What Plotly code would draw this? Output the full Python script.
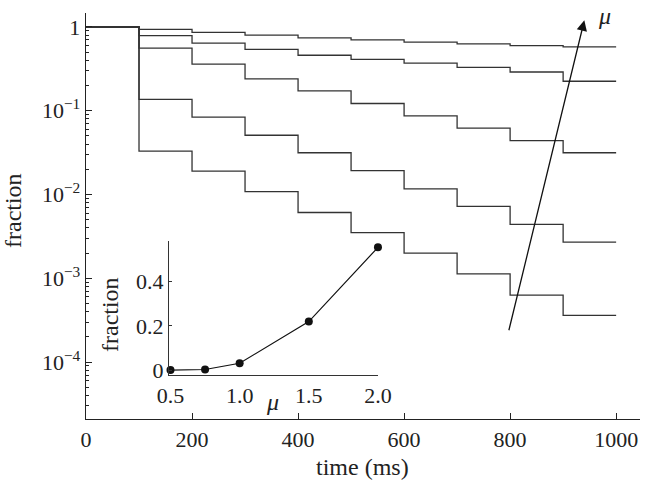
import numpy as np
import plotly.graph_objects as go

# step times (ms)
step_times = [0, 100, 200, 300, 400, 500, 600, 700, 800, 900, 1000]

# survival fractions for each mu (value held from each step time)
frac_mu_2_0 = [1, 0.937, 0.863, 0.80, 0.74, 0.70, 0.66, 0.63, 0.60, 0.58]
frac_mu_1_5 = [1, 0.79, 0.64, 0.54, 0.46, 0.41, 0.37, 0.33, 0.29, 0.225]
frac_mu_1_0 = [1, 0.56, 0.36, 0.24, 0.173, 0.122, 0.087, 0.062, 0.044, 0.0315]
frac_mu_0_75 = [1, 0.137, 0.084, 0.051, 0.0315, 0.0193, 0.0117, 0.0072, 0.0044, 0.0027]
frac_mu_0_5 = [1, 0.033, 0.019, 0.0108, 0.0061, 0.0035, 0.0020, 0.00113, 0.00063, 0.00036]

# inset data
inset_mu = [0.5, 0.75, 1.0, 1.5, 2.0]
inset_frac = [0.0004, 0.003, 0.031, 0.219, 0.554]

y_tickvals = [1e-4, 1e-3, 1e-2, 1e-1, 1]
y_ticktext = ["10<sup>\u22124</sup>", "10<sup>\u22123</sup>", "10<sup>\u22122</sup>",
              "10<sup>\u22121</sup>", "1"]
x_tickvals = [0, 200, 400, 600, 800, 1000]
inset_xticks = [0.5, 1.0, 1.5, 2.0]
inset_xtext = ["0.5", "1.0", "1.5", "2.0"]
inset_yticks = [0, 0.2, 0.4]
inset_ytext = ["0", "0.2", "0.4"]

FONT = "Liberation Serif"
FS = 22   # tick labels
FT = 24   # axis titles
LC = "#333333"

fig = go.Figure()
for s in [frac_mu_2_0, frac_mu_1_5, frac_mu_1_0, frac_mu_0_75, frac_mu_0_5]:
    fig.add_trace(go.Scatter(x=step_times, y=s + [s[-1]], mode="lines",
                             line=dict(shape="hv", color=LC, width=1.3),
                             showlegend=False, hoverinfo="skip"))

fig.add_trace(go.Scatter(x=inset_mu, y=inset_frac, mode="lines+markers",
                         line=dict(color="#111", width=1.2),
                         marker=dict(color="#111", size=8),
                         xaxis="x2", yaxis="y2", showlegend=False,
                         cliponaxis=False, hoverinfo="skip"))

minor_vals = [m * 10.0 ** k for k in range(-5, 1) for m in range(2, 10)]

fig.update_layout(
    width=648, height=483,
    margin=dict(l=86, r=8, t=13, b=64),
    paper_bgcolor="white", plot_bgcolor="white",
    font=dict(family=FONT, size=FS, color="#222"),
    xaxis=dict(range=[0, 1045], tickvals=x_tickvals, ticks="inside", ticklen=6,
               tickcolor="#222", showline=True, linecolor="#222", linewidth=1.3,
               showgrid=False, zeroline=False, mirror=False, automargin=False,
               tickfont=dict(size=FS)),
    yaxis=dict(type="log", range=[-4.68, 0.167], tickvals=y_tickvals, ticktext=y_ticktext,
               ticks="inside", ticklen=6, tickcolor="#222", showline=True,
               linecolor="#222", linewidth=1.3, showgrid=False, zeroline=False,
               automargin=False, tickfont=dict(size=FS),
               minor=dict(tickvals=minor_vals, ticks="inside", ticklen=3, tickcolor="#222",
                          showgrid=False)),
    xaxis2=dict(domain=[0.15, 0.527], anchor="y2", range=[0.49, 2.0],
                tickvals=inset_xticks, ticktext=inset_xtext, ticks="", showline=True,
                linecolor="#333", linewidth=1.2, showgrid=False, zeroline=False,
                automargin=False, tickfont=dict(size=FS)),
    yaxis2=dict(domain=[0.108, 0.438], anchor="x2", range=[-0.0226, 0.582],
                tickvals=inset_yticks, ticktext=inset_ytext, ticks="inside", ticklen=3,
                tickcolor="#333", showline=True, linecolor="#333", linewidth=1.2,
                showgrid=False, zeroline=False, automargin=False, tickfont=dict(size=FS)),
)

def px_ann(x, y, text, size, angle=0):
    fig.add_annotation(xref="paper", yref="paper", x=(x - 86) / 554, y=(419 - y) / 406,
                       text=text, textangle=angle, showarrow=False, font=dict(size=size),
                       xanchor="center", yanchor="middle")

# axis titles
px_ann(362, 467, "time (ms)", FT)
px_ann(13, 210, "fraction", FT, -90)
px_ann(110, 315, "fraction", FT, -90)
px_ann(272, 402, "<i>\u03bc</i>", FT)
px_ann(604, 16, "<i>\u03bc</i>", FT)

# arrow indicating increasing mu
fig.add_annotation(x=940, y=np.log10(1.2), ax=797, ay=np.log10(2.3e-4),
                   xref="x", yref="y", axref="x", ayref="y",
                   showarrow=True, arrowhead=2, arrowsize=1.6, arrowwidth=1.3,
                   arrowcolor="#111", text="")

fig.write_html("out.html", config={"displayModeBar": False, "staticPlot": True},
               post_script="document.body.style.margin='0';document.body.style.padding='0';")
